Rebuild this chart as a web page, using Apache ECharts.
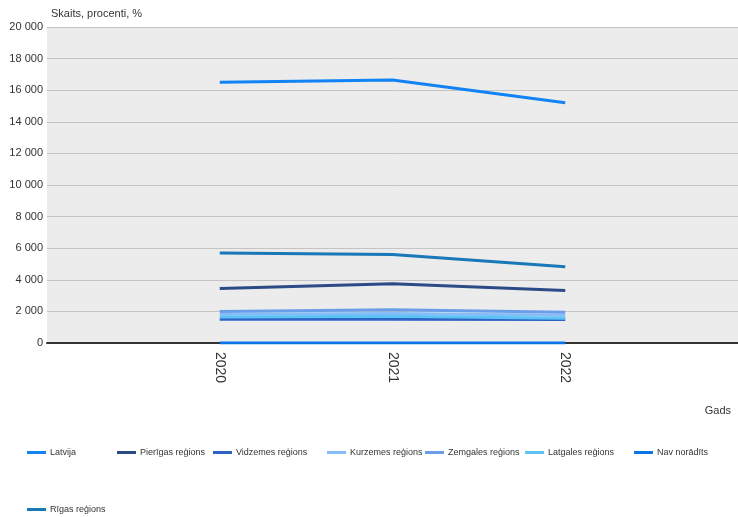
<!DOCTYPE html>
<html>
<head>
<meta charset="utf-8">
<script src="https://cdn.jsdelivr.net/npm/echarts@6/dist/echarts.min.js"></script>
<style>
  html, body { margin: 0; padding: 0; background: #fff; }
  #chart { width: 738px; height: 517px; }
</style>
</head>
<body>
<div id="chart"></div>
<script>
// Years on the horizontal axis
const years = ['2020', '2021', '2022'];

// Values per region
const latvija   = [16500, 16650, 15200];
const pierigas  = [3450, 3750, 3330];
const vidzeme   = [1500, 1500, 1480];
const kurzeme   = [1820, 1870, 1760];
const zemgale   = [2000, 2100, 1950];
const latgale   = [1650, 1700, 1560];
const navNoradits = [0, 0, 0];
const rigas     = [5700, 5600, 4830];

// Y axis ticks
const yTicks = [0, 2000, 4000, 6000, 8000, 10000, 12000, 14000, 16000, 18000, 20000];

const FONT = "'Liberation Sans Narrow', 'Liberation Sans', Arial, sans-serif";

const seriesDefs = [
  { name: 'Latvija',            data: latvija,     color: '#1283f5' },
  { name: 'Pierīgas reģions',   data: pierigas,    color: '#2c4a86' },
  { name: 'Vidzemes reģions',   data: vidzeme,     color: '#2e63c6' },
  { name: 'Kurzemes reģions',   data: kurzeme,     color: '#84bdf7' },
  { name: 'Zemgales reģions',   data: zemgale,     color: '#6a9ee8' },
  { name: 'Latgales reģions',   data: latgale,     color: '#5cc3f5' },
  { name: 'Nav norādīts',       data: navNoradits, color: '#0b74e6' },
  { name: 'Rīgas reģions',      data: rigas,       color: '#1878b8' }
];

// Empty slots on both ends so the years sit at quarter positions
const categories = [''].concat(years, ['']);
const pad = arr => [null].concat(arr, [null]);

// Legend cell positions
const legendPos = [
  [27, 448], [117, 448], [213, 448], [327, 448], [425, 448], [525, 448], [634, 448],
  [27, 505]
];

const legends = seriesDefs.map((s, i) => ({
  data: [s.name],
  left: legendPos[i][0],
  top: legendPos[i][1],
  orient: 'horizontal',
  icon: 'rect',
  itemWidth: 19,
  itemHeight: 3,
  itemGap: 0,
  selectedMode: false,
  padding: 0,
  textStyle: { fontFamily: FONT, fontSize: 9, color: '#333', padding: [0, 0, 0, -1] }
}));

const chart = echarts.init(document.getElementById('chart'), null, { renderer: 'canvas' });

chart.setOption({
  animation: false,
  backgroundColor: '#ffffff',
  textStyle: { fontFamily: FONT },
  grid: {
    left: 47, right: 0, top: 27, bottom: 174,
    show: true, backgroundColor: '#ececec', borderWidth: 0
  },
  title: [
    { text: 'Skaits, procenti, %', left: 46, top: 3,
      textStyle: { fontFamily: FONT, fontSize: 11, fontWeight: 'normal', color: '#333' } },
    { text: 'Gads', right: 2, top: 400,
      textStyle: { fontFamily: FONT, fontSize: 11, fontWeight: 'normal', color: '#333' } }
  ],
  legend: legends,
  xAxis: {
    type: 'category',
    data: categories,
    boundaryGap: false,
    axisLine: { show: true, onZero: true, lineStyle: { color: '#333', width: 2 } },
    axisTick: { show: false },
    splitLine: { show: false },
    axisLabel: {
      rotate: -90, margin: 9, interval: 0,
      fontFamily: FONT, fontSize: 14, color: '#333'
    }
  },
  yAxis: {
    type: 'value',
    min: yTicks[0],
    max: yTicks[yTicks.length - 1],
    interval: yTicks[1] - yTicks[0],
    axisLine: { show: false },
    axisTick: { show: false },
    splitLine: { show: true, lineStyle: { color: '#c4c4c4', width: 1 } },
    axisLabel: {
      margin: 4, fontFamily: FONT, fontSize: 11, color: '#333',
      formatter: v => String(v).replace(/\B(?=(\d{3})+(?!\d))/g, ' ')
    }
  },
  series: seriesDefs.map((s, i) => ({
    name: s.name,
    type: 'line',
    data: pad(s.data),
    symbol: 'none',
    z: s.name === 'Nav norādīts' ? 10 : 3 + i,
    color: s.color,
    lineStyle: { color: s.color, width: 3 }
  }))
});
</script>
</body>
</html>
